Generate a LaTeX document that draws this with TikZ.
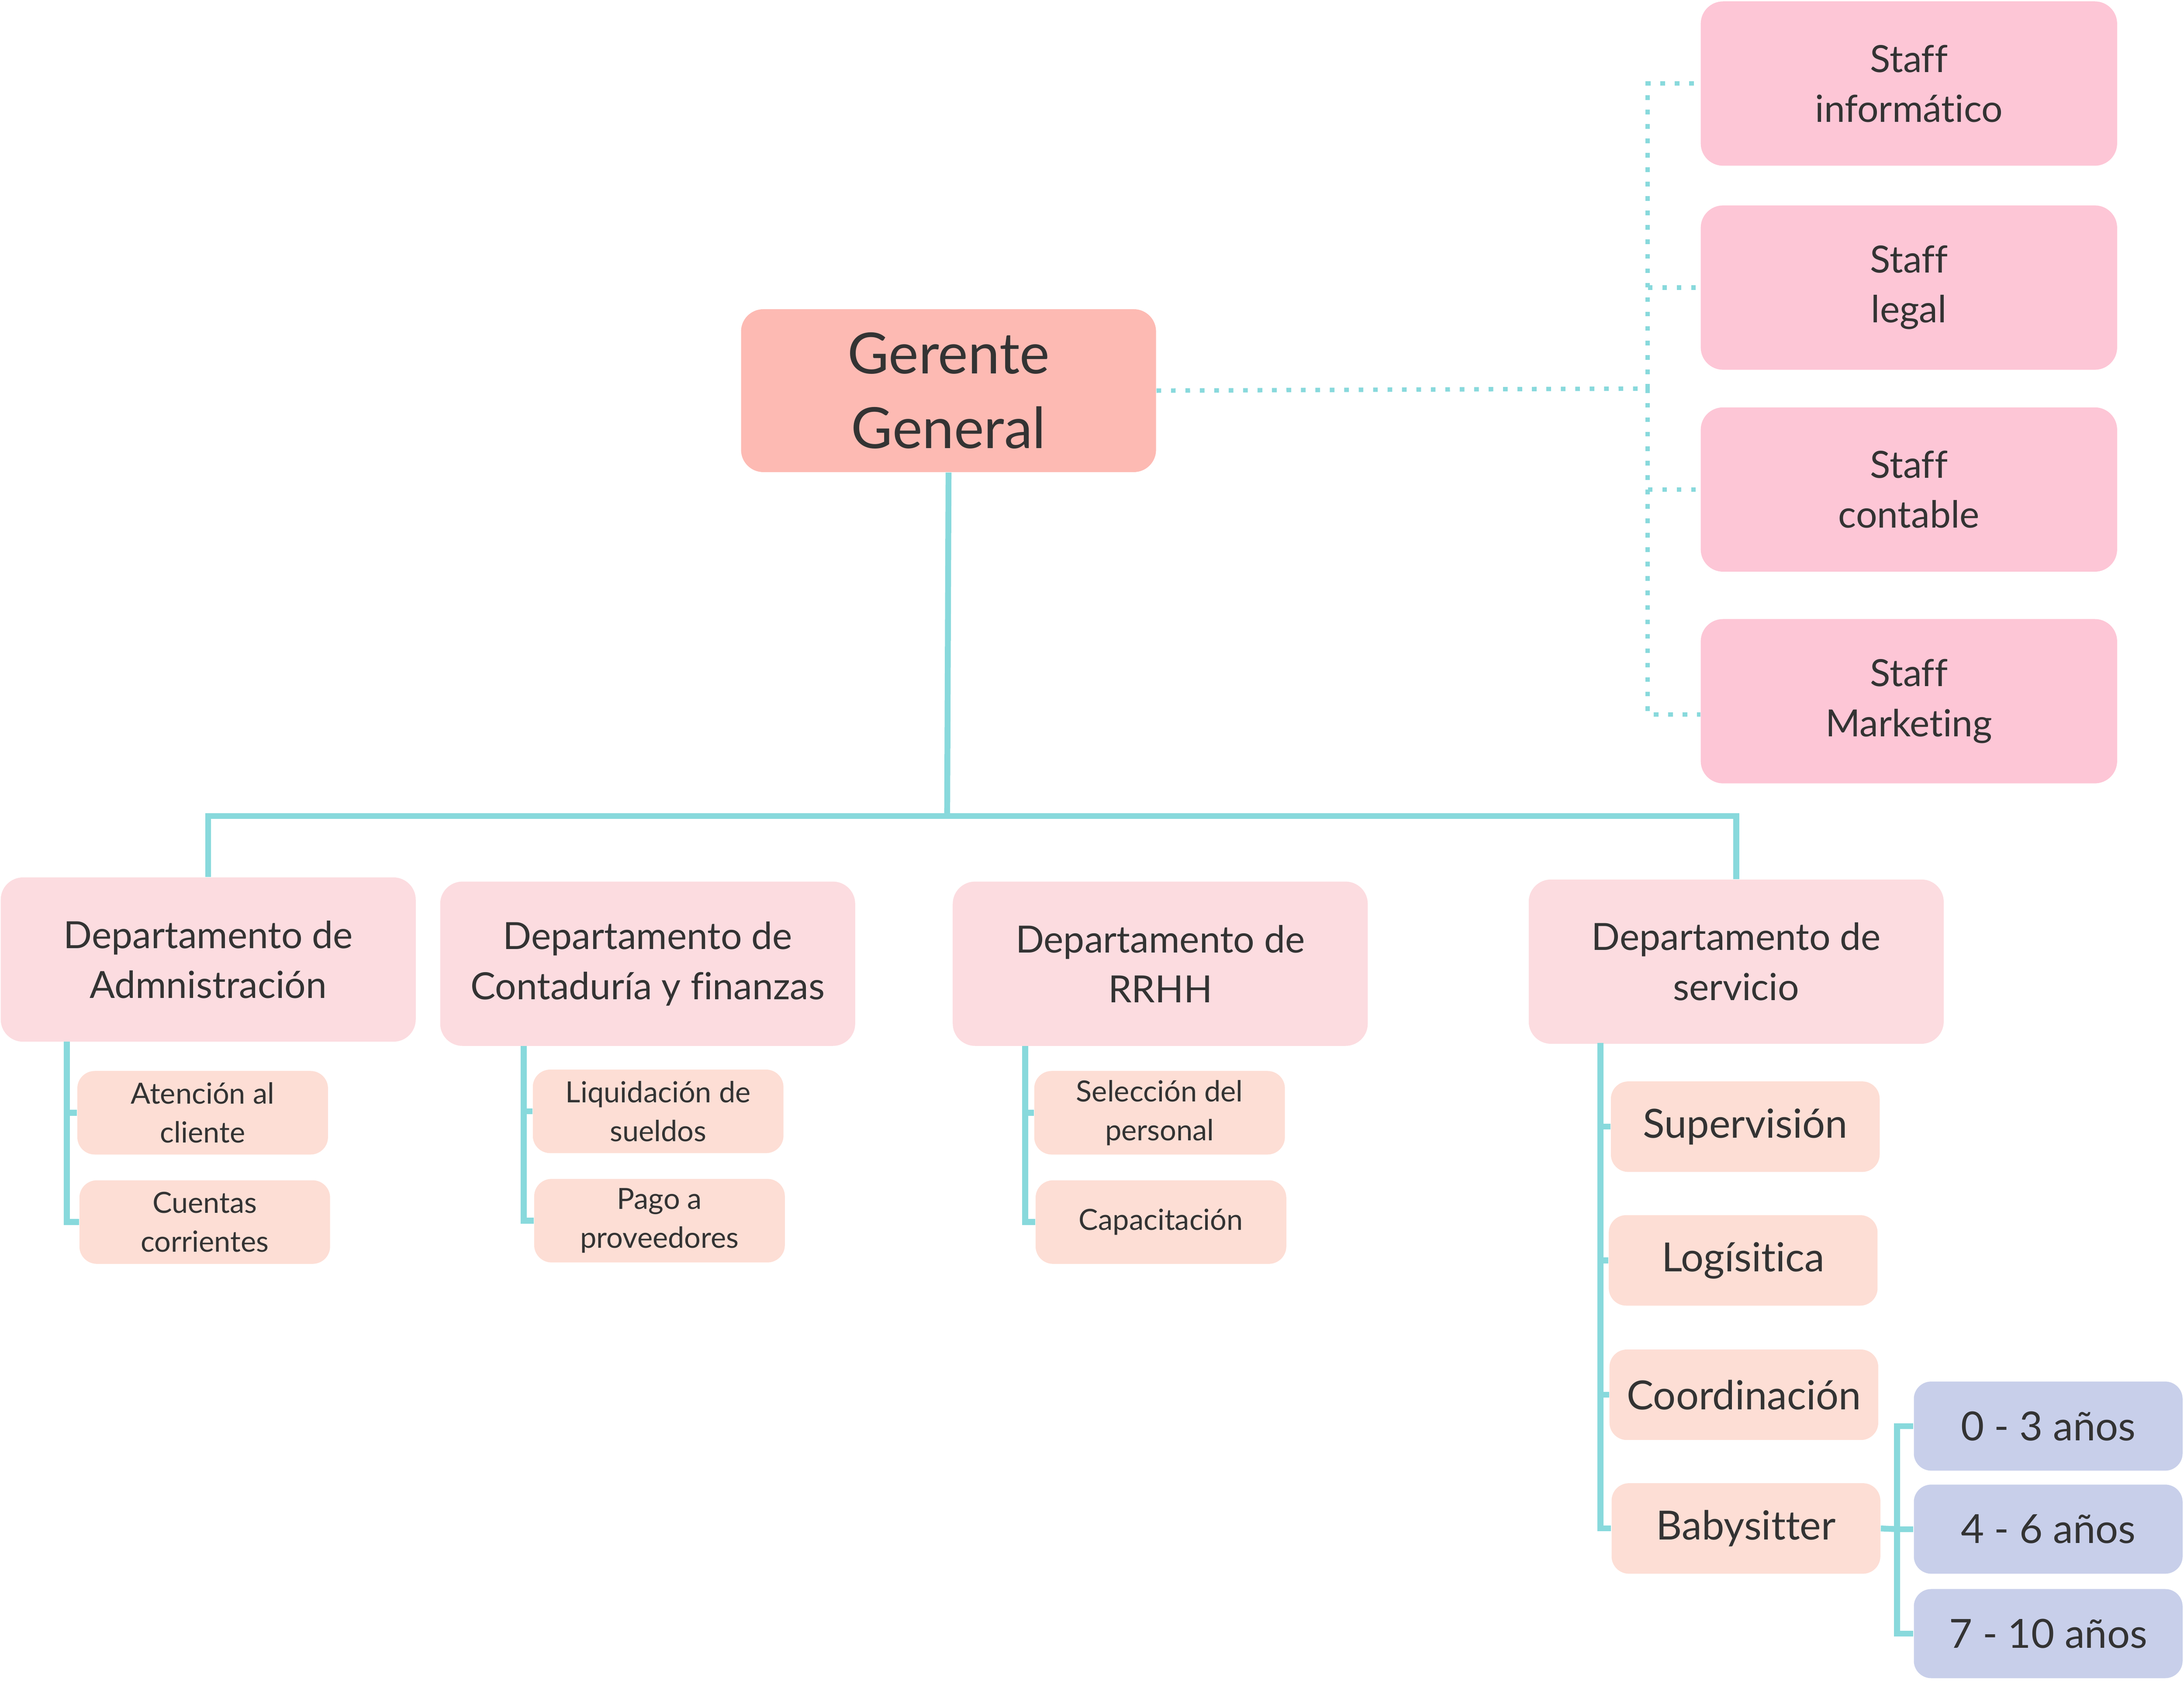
\documentclass[tikz,border=0pt]{standalone}
\usepackage{fontspec}
\setmainfont{Lato}[Ligatures={NoCommon,NoRare}]
\usetikzlibrary{positioning}

\definecolor{linecol}{HTML}{88D9DC}
\definecolor{textcol}{HTML}{333333}
\definecolor{topcol}{HTML}{FDBAB3}
\definecolor{staffcol}{HTML}{FDC6D6}
\definecolor{deptcol}{HTML}{FCDCE0}
\definecolor{subcol}{HTML}{FDDED5}
\definecolor{agecol}{HTML}{C8CFEA}

\begin{document}
\begin{tikzpicture}[
  x=0.02cm, y=-0.02cm,
  box/.style={rounded corners=0.32cm, align=center, text=textcol, inner sep=2pt},
  topnode/.style={box, fill=topcol, minimum width=5.96cm, minimum height=2.34cm, font=\fontsize{23.2}{30.6}\selectfont},
  staffnode/.style={box, fill=staffcol, minimum width=5.98cm, minimum height=2.36cm, font=\fontsize{15.3}{20.4}\selectfont},
  deptnode/.style={box, fill=deptcol, minimum width=5.96cm, minimum height=2.36cm, font=\fontsize{15.3}{20.4}\selectfont},
  subnode/.style={box, fill=subcol, rounded corners=0.25cm, minimum width=3.6cm, minimum height=1.2cm, font=\fontsize{11.9}{15.9}\selectfont},
  srvnode/.style={box, fill=subcol, rounded corners=0.25cm, minimum width=3.86cm, minimum height=1.3cm, font=\fontsize{16.4}{21}\selectfont},
  agenode/.style={srvnode, fill=agecol, minimum height=1.28cm},
  tree/.style={draw=linecol, line width=2.4pt},
  dots/.style={draw=linecol, line width=1.8pt, dash pattern=on 1.9pt off 4pt}
]
\useasboundingbox (0,0) rectangle (1568,1207);

% top
\node[topnode] (GG) at (681,280.5) {Gerente\\General};

% staff
\node[staffnode] (St_Inf) at (1370.5,60) {Staff\\informático};
\node[staffnode] (St_Leg) at (1370.5,206.5) {Staff\\legal};
\node[staffnode] (St_Con) at (1370.5,351.5) {Staff\\contable};
\node[staffnode] (St_Mkt) at (1370.5,503.5) {Staff\\Marketing};

% departments
\node[deptnode] (D_Adm) at (149.5,689) {Departamento de\\Admnistración};
\node[deptnode] (D_Con) at (465,692) {Departamento de\\Contaduría y finanzas};
\node[deptnode] (D_RH) at (833,692) {Departamento de\\RRHH};
\node[deptnode] (D_Srv) at (1246.5,690.5) {Departamento de\\servicio};

% sub areas
\node[subnode] (A_Cli) at (145.5,799) {Atención al\\cliente};
\node[subnode] (A_Cta) at (147,877.5) {Cuentas\\corrientes};
\node[subnode] (C_Liq) at (472.5,798) {Liquidación de\\sueldos};
\node[subnode] (C_Pag) at (473.5,876.5) {Pago a\\proveedores};
\node[subnode] (R_Sel) at (832.5,799) {Selección del\\personal};
\node[subnode] (R_Cap) at (833.5,877.5) {Capacitación};

\node[srvnode] (S_Sup) at (1253,809) {Supervisión};
\node[srvnode] (S_Log) at (1251.5,905) {Logísitica};
\node[srvnode] (S_Coo) at (1252,1001.5) {Coordinación};
\node[srvnode] (S_Bab) at (1253.5,1097.5) {Babysitter};

\node[agenode] (Y_03) at (1470.5,1024) {0 - 3 años};
\node[agenode] (Y_46) at (1470.5,1098) {4 - 6 años};
\node[agenode] (Y_710) at (1470.5,1173) {7 - 10 años};

% junctions
\coordinate (hub) at (680,586);
\coordinate (stj) at (1183,279);
\coordinate (admj) at (48,748);
\coordinate (conj) at (376,751);
\coordinate (rhj) at (736,751);
\coordinate (srvj) at (1149,749);
\coordinate (babj) at (1362,1098);

\draw[dots] (GG.east) -- (stj);
\draw[dots] (stj) |- (St_Inf.west);
\draw[dots] (stj) |- (St_Leg.west);
\draw[dots] (stj) |- (St_Con.west);
\draw[dots] (stj) |- ([yshift=-5.5]St_Mkt.west);

\draw[tree] (GG.south) -- (hub);
\draw[tree] (D_Adm.north) |- (hub) -| (D_Srv.north);

\draw[tree] (admj) |- (A_Cli.west);
\draw[tree] (admj) |- (A_Cta.west);
\draw[tree] (conj) |- (C_Liq.west);
\draw[tree] (conj) |- (C_Pag.west);
\draw[tree] (rhj) |- (R_Sel.west);
\draw[tree] (rhj) |- (R_Cap.west);

\draw[tree] (srvj) |- (S_Sup.west);
\draw[tree] (srvj) |- (S_Log.west);
\draw[tree] (srvj) |- (S_Coo.west);
\draw[tree] (srvj) |- (S_Bab.west);

\draw[tree] (S_Bab.east) -- (babj);
\draw[tree] (babj) |- (Y_03.west);
\draw[tree] (babj) |- (Y_46.west);
\draw[tree] (babj) |- (Y_710.west);
\end{tikzpicture}
\end{document}
